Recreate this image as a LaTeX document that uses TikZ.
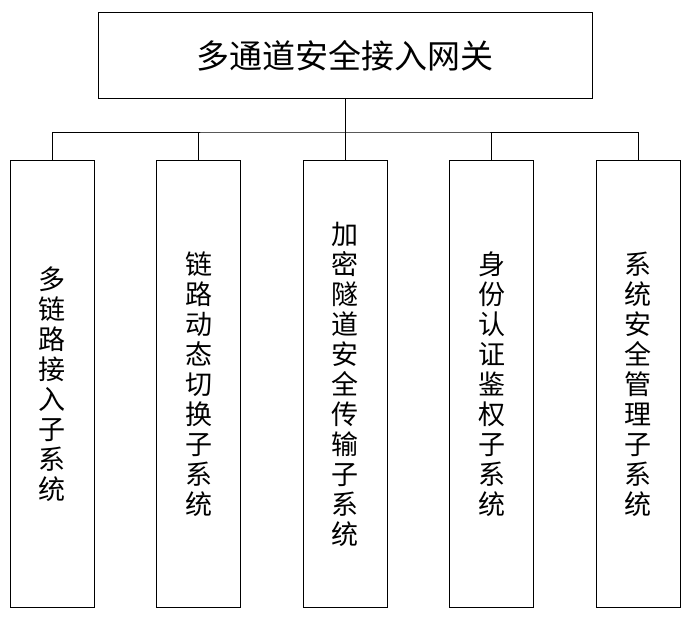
\documentclass[tikz,border=0pt]{standalone}
\usepackage{fontspec}
\newfontfamily\cjk{Noto Sans CJK SC}
\usetikzlibrary{positioning}

\begin{document}
\begin{tikzpicture}[
    node distance=61.5pt,
    every node/.style={font=\cjk\fontsize{27}{30}\selectfont, align=center},
    gate/.style={
      rectangle, draw=black, line width=1pt,
      minimum width=494pt, minimum height=86pt, inner sep=0pt,
      font=\cjk\fontsize{33}{36}\selectfont
    },
    subsys/.style={
      rectangle, draw=black, line width=1pt,
      minimum width=84pt, minimum height=447pt, inner sep=0pt
    },
    link/.style={line width=1pt, draw=black}
  ]
    \useasboundingbox (0,0) rectangle (682pt,-616pt);

    \node[gate] (gw) at (345pt,-55.5pt) {多通道安全接入网关};
    \node[subsys, below=61pt of gw] (tunnel) {加\\密\\隧\\道\\安\\全\\传\\输\\子\\系\\统};
    \node[subsys, left=of tunnel] (switch) {链\\路\\动\\态\\切\\换\\子\\系\\统};
    \node[subsys, left=of switch] (multi) {多\\链\\路\\接\\入\\子\\系\\统};
    \node[subsys, right=of tunnel] (auth) {身\\份\\认\\证\\鉴\\权\\子\\系\\统};
    \node[subsys, right=of auth] (mgmt) {系\\统\\安\\全\\管\\理\\子\\系\\统};

    \coordinate[below=33pt of gw.south] (bus);

    \draw[link] (gw.south) -- (bus);
    \draw[link] (multi.north) |- (bus) -| (mgmt.north);
    \draw[link] (switch.north) -- (switch.north |- bus);
    \draw[link] (tunnel.north) -- (bus);
    \draw[link] (auth.north) -- (auth.north |- bus);
  \end{tikzpicture}
\end{document}
